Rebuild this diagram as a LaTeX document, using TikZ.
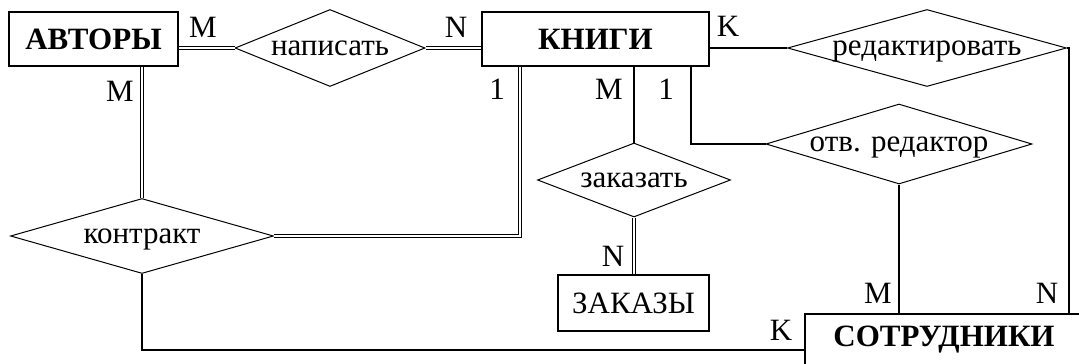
\documentclass[tikz,border=0pt]{standalone}
\usepackage{fontspec}
\setmainfont{Liberation Serif}
\usepackage{tikz}
\usetikzlibrary{shapes.geometric}
\newcommand{\erfont}{\fontsize{31}{36}\selectfont}
\tikzstyle{entity}=[rectangle,draw,line width=1.1pt,inner sep=0pt,font=\erfont\bfseries]
\tikzstyle{relation}=[diamond,draw,line width=1pt,inner sep=0pt,text depth=0pt,font=\erfont]
\tikzstyle{card}=[inner sep=0pt,font=\erfont]
\tikzstyle{edge}=[draw,line width=1.1pt,-]
\tikzstyle{double edge}=[draw,line width=1pt,double,double distance=2pt,-]

\begin{document}
\begin{tikzpicture}[x=1pt,y=-1pt]
        \useasboundingbox (0,0) rectangle (1079,364);
        \clip (0,0) rectangle (1079,364);
        % entities
        \node[entity,minimum width=169pt,minimum height=54pt] (avtory) at (93.5,39) {АВТОРЫ};
        \node[entity,minimum width=227pt,minimum height=54pt] (knigi) at (595.5,39) {КНИГИ};
        \node[entity,minimum width=151pt,minimum height=56pt,font=\erfont] (zakazy) at (633.5,303) {ЗАКАЗЫ};
        \node[entity,minimum width=278pt,minimum height=52pt] (sotr) at (944,340) {СОТРУДНИКИ};
        % relations
        \node[relation,aspect=2.47,minimum width=190pt,minimum height=77pt] (napisat) at (330,48) {написать};
        \node[relation,aspect=3.62,minimum width=279pt,minimum height=77pt] (redakt) at (927,48) {редактировать};
        \node[relation,aspect=3.33,minimum width=266pt,minimum height=80pt] (otv) at (899,144) {отв. редактор};
        \node[relation,aspect=2.6,minimum width=193pt,minimum height=74pt] (zakazat) at (634,180) {заказать};
        \node[relation,aspect=3.5,minimum width=263pt,minimum height=75pt] (kontrakt) at (142,236) {контракт};
        \coordinate (rN) at (1069,0);
        % connectors
        \draw[double edge] (avtory.east |- napisat.west) to (napisat.west);
        \draw[double edge] (napisat.east) to (napisat.east -| knigi.west);
        \draw[edge] (knigi.east |- redakt.west) to (redakt.west);
        \draw[edge] (redakt.east) -| (rN |- sotr.north);
        \draw[double edge] (avtory.south -| kontrakt.north) to (kontrakt.north);
        \draw[double edge] ([xshift=-75.5pt]knigi.south) |- (kontrakt.east);
        \draw[edge] (zakazat.north |- knigi.south) to (zakazat.north);
        \draw[double edge] (zakazat.south) to (zakazat.south |- zakazy.north);
        \draw[edge] ([xshift=95.5pt]knigi.south) |- (otv.west);
        \draw[edge] (otv.south) to (otv.south |- sotr.north);
        \draw[edge] (kontrakt.south) |- ([yshift=-10pt]sotr.west);
        % cardinalities
        \node[card] (c1) at (203,27) {M};
        \node[card] (c2) at (456,27) {N};
        \node[card] (c3) at (728,26) {K};
        \node[card] (c4) at (120,91) {M};
        \node[card] (c5) at (497,89) {1};
        \node[card] (c6) at (609,89) {M};
        \node[card] (c7) at (666,89) {1};
        \node[card] (c8) at (613,256) {N};
        \node[card] (c9) at (878,293) {M};
        \node[card] (c10) at (1047,293) {N};
        \node[card] (c11) at (781,330) {K};
      \end{tikzpicture}
\end{document}
